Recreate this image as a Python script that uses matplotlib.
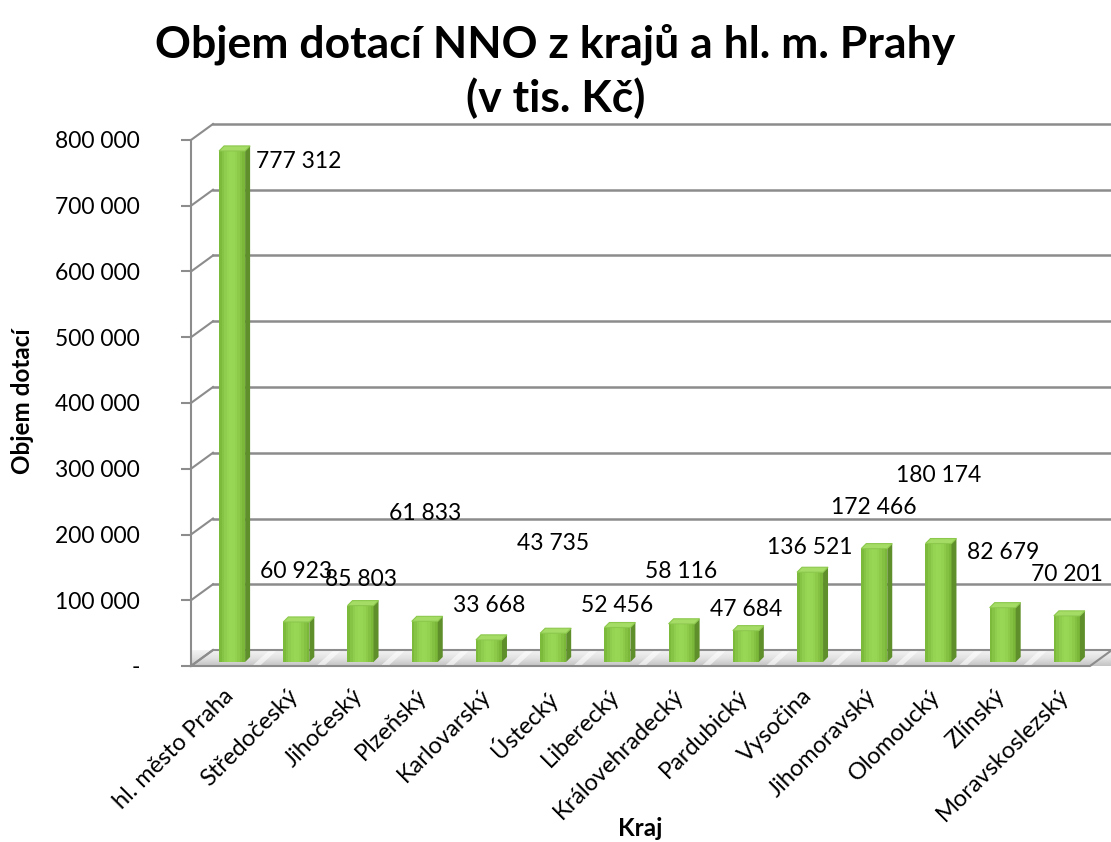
import matplotlib.pyplot as plt
import numpy as np
from matplotlib.colors import LinearSegmentedColormap
from matplotlib.patches import Polygon

plt.rcParams['font.family'] = ['Lato', 'DejaVu Sans']

# data
kraje = ['hl. město Praha', 'Středočeský', 'Jihočeský', 'Plzeňský', 'Karlovarský',
         'Ústecký', 'Liberecký', 'Královehradecký', 'Pardubický', 'Vysočina',
         'Jihomoravský', 'Olomoucký', 'Zlínský', 'Moravskoslezský']
dotace = [777312, 60923, 85803, 61833, 33668, 43735, 52456, 58116, 47684,
          136521, 172466, 180174, 82679, 70201]
# heights where Excel placed the value labels
label_y = [760500, 138400, 126200, 226600, 85200, 179500, 85200, 136900, 80600,
           174900, 235700, 282900, 167300, 133800]
y_ticks = [0, 100000, 200000, 300000, 400000, 500000, 600000, 700000, 800000]


def fmt(v):
    return '-' if v == 0 else f'{v:,}'.replace(',', ' ')


W, H = 1111, 842
fig = plt.figure(figsize=(W / 100, H / 100), dpi=100)
# front plane of the 3d box, in pixels
left_px, right_px, bottom_px, top_px = 191, 1090, 666, 140
ax = fig.add_axes([left_px / W, 1 - bottom_px / H,
                   (right_px - left_px) / W, (bottom_px - top_px) / H])
n = len(kraje)
ax.set_xlim(-0.5, n - 0.5)
ax.set_ylim(0, 800000)

ux = n / (right_px - left_px)          # data units per pixel
uy = 800000 / (bottom_px - top_px)
DX, DY = 22 * ux, 16 * uy              # depth of the box
grid_c = '#8c8c8c'

# floor
floor = Polygon([(-0.5, 0), (n - 0.5, 0), (n - 0.5 + DX, DY), (-0.5 + DX, DY)],
                closed=True, facecolor='none', edgecolor=grid_c, lw=1.5, clip_on=False, zorder=2)
ax.add_patch(floor)
grad = np.linspace(0, 1, 50).reshape(-1, 1)
fcmap = LinearSegmentedColormap.from_list('fl', ['#c4c4c4', '#e2e2e2', '#f4f4f4'])
im = ax.imshow(grad, cmap=fcmap, aspect='auto', origin='lower',
               extent=(-0.5, n - 0.5 + DX, 0, DY), zorder=1, clip_on=False)
im.set_clip_path(floor)
# light streaks on the floor between the bars
for i in range(n - 1):
    xs = i + 0.45
    ax.add_patch(Polygon([(xs, 0), (xs + 0.12, 0), (xs + 0.12 + DX * 0.8, DY), (xs + DX * 0.8, DY)],
                         closed=True, facecolor='white', alpha=0.6, lw=0, zorder=1.5, clip_on=False))

# walls and gridlines
for v in y_ticks:
    ax.plot([-0.5, -0.5 + DX], [v, v + DY], color=grid_c, lw=1.5, clip_on=False, zorder=1)
    if v > 0:
        ax.plot([-0.5 + DX, n - 0.5 + DX], [v + DY, v + DY], color=grid_c, lw=1.8,
                clip_on=False, zorder=1)
ax.plot([-0.5, -0.5], [0, 800000], color=grid_c, lw=1.5, clip_on=False, zorder=1)

# 3d bars
bx, by = 9 * ux, 4 * uy
bw = 26 * ux
sx, sy = 5 * ux, 5 * uy
strip_cols = LinearSegmentedColormap.from_list(
    'g', ['#7cba3c', '#92d050', '#9ad858', '#8fcd4c', '#7bb83a'])
ns = 10
for i, v in enumerate(dotace):
    x0 = i + bx - bw / 2
    for k in range(ns):
        ax.bar(x0 + (k + 0.5) * bw / ns, v, width=bw / ns * 1.05, bottom=by,
               color=strip_cols(k / (ns - 1)), lw=0, zorder=3)
    x1 = x0 + bw
    ax.add_patch(Polygon([(x1, by), (x1 + sx, by + sy), (x1 + sx, by + v + sy), (x1, by + v)],
                         closed=True, facecolor='#5f8f2b', lw=0, zorder=3, clip_on=False))
    ax.add_patch(Polygon([(x0, by + v), (x1, by + v), (x1 + sx, by + v + sy), (x0 + sx, by + v + sy)],
                         closed=True, facecolor='#a4dc66', edgecolor='#8cc84c', lw=0.8,
                         zorder=3, clip_on=False))

# value labels
for i, (v, ly) in enumerate(zip(dotace, label_y)):
    if i == 0:
        ax.text(i + 0.52, ly + by, fmt(v), ha='left', va='center', fontsize=16.5, zorder=4)
    else:
        ax.text(i + bx, ly + by, fmt(v), ha='center', va='center', fontsize=16.5, zorder=4)

# axes
for s in ['top', 'right', 'bottom', 'left']:
    ax.spines[s].set_visible(False)
ax.set_yticks(y_ticks)
ax.set_yticklabels([fmt(v) for v in y_ticks], fontsize=16.5)
ax.tick_params(axis='y', length=7, width=1.5, color=grid_c, pad=30)
ax.set_xticks(range(n))
ax.set_xticklabels(kraje, rotation=45, ha='right', rotation_mode='anchor', fontsize=17)
ax.tick_params(axis='x', length=0, pad=14)

fig.text(23 / W, 1 - 401 / H, 'Objem dotací', rotation=90, fontsize=17.5,
         fontweight='bold', ha='center', va='center')
fig.text(640 / W, 1 - 828 / H, 'Kraj', fontsize=17.5, fontweight='bold',
         ha='center', va='center')

fig.text(0.5, 1 - 44 / H, 'Objem dotací NNO z krajů a hl. m. Prahy', fontsize=32,
         fontweight='bold', ha='center', va='center')
fig.text(0.5, 1 - 98 / H, '(v tis. Kč)', fontsize=32,
         fontweight='bold', ha='center', va='center')

fig.savefig('out.png', dpi=100)
